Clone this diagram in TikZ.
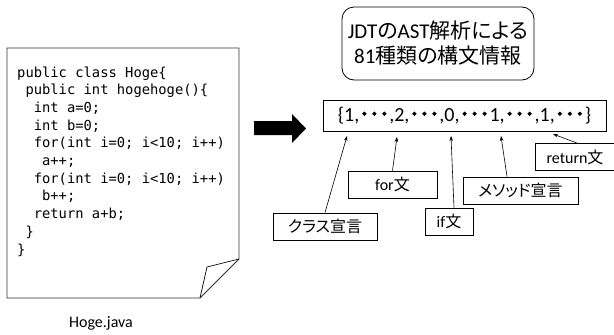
\documentclass[tikz,border=0pt]{standalone}
\usepackage{fontspec}
\setmainfont{Carlito}
\newfontfamily\jp{Noto Sans CJK JP}[RawFeature=+palt]
\newfontfamily\jpdot{Noto Sans CJK JP}[FakeBold=4]
\newfontfamily\codefont{DejaVu Sans Mono}
\usetikzlibrary{arrows.meta}
\begin{document}
\begin{tikzpicture}[x=1pt,y=-1pt,
  code/.style={anchor=base west,inner sep=0pt,font=\codefont\fontsize{13.8}{16}\selectfont},
  lbl/.style={draw,line width=0.8pt,inner sep=0pt,minimum height=27pt,font=\fontsize{16}{18}\selectfont},
  ptr/.style={line width=0.6pt,-{Stealth[length=5pt,width=3.5pt]}}]
\useasboundingbox (0,0) rectangle (614,335);
% document
\draw[line width=0.8pt,black!80] (7,48) -- (239,48) -- (239,259) -- (200,298) -- (7,298) -- cycle;
\draw[line width=0.7pt] (239,259) -- (207,267) -- (200,298);
\node[code] (c1) at (17,77) {public class Hoge\{};
\node[code] (c2) at (17,94.7) {\phantom{x}public int hogehoge()\{};
\node[code] (c3) at (17,112.4) {\phantom{xx}int a=0;};
\node[code] (c4) at (17,130.1) {\phantom{xx}int b=0;};
\node[code] (c5) at (17,147.8) {\phantom{xx}for(int i=0; i<10; i++)};
\node[code] (c6) at (17,165.5) {\phantom{xxx}a++;};
\node[code] (c7) at (17,183.2) {\phantom{xx}for(int i=0; i<10; i++)};
\node[code] (c8) at (17,200.9) {\phantom{xxx}b++;};
\node[code] (c9) at (17,218.6) {\phantom{xx}return a+b;};
\node[code] (c10) at (17,236.3) {\phantom{x}\}};
\node[code] (c11) at (17,254) {\}};
\node[font=\fontsize{16}{18}\selectfont] (fname) at (101,323) {Hoge.java};
% block arrow
\fill (254,121) -- (292,121) -- (292,114) -- (306,128.5) -- (292,143) -- (292,135) -- (254,135) -- cycle;
% AST box
\node[draw,line width=0.8pt,rounded corners=12pt,minimum width=192pt,minimum height=73pt,inner sep=0pt,align=center,
  font=\fontsize{21}{25}\selectfont] (ast) at (438,43.5) {JDT{\jp の}AST{\jp 解析による}\\81{\jp 種類の構文情報}};
% vector box
\node[draw,line width=0.8pt,minimum width=283pt,minimum height=31pt,inner sep=0pt,font=\fontsize{20}{22}\selectfont]
  (arr) at (464.5,115.5) {\{1,{\jpdot ･･･},2,{\jpdot ･･･},0,{\jpdot ･･･}1,{\jpdot ･･･},1,{\jpdot ･･･}\}};
% labels
\node[lbl,minimum width=104pt] (cls) at (325,226.5) {\jp クラス宣言};
\node[lbl,minimum width=89pt] (forl) at (392.5,184.5) {for{\jp 文}};
\node[lbl,minimum width=48pt] (ifl) at (449,221.5) {if{\jp 文}};
\node[lbl,minimum width=115pt] (meth) at (520.5,190.5) {\jp メソッド宣言};
\node[lbl,minimum width=80pt] (ret) at (575,157) {return{\jp 文}};
% pointer targets
\coordinate (t1) at (347,136);
\coordinate (t2) at (397,137);
\coordinate (t3) at (451,136);
\coordinate (t4) at (501,136);
\coordinate (t5) at (553,134);
\draw[ptr] (cls.north) -- (t1);
\draw[ptr] (forl.north) -- (t2);
\draw[ptr] ([xshift=5pt]ifl.north) -- (t3);
\draw[ptr] ([xshift=-13.5pt]meth.north) -- (t4);
\draw[ptr] ([xshift=2pt]ret.north) -- (t5);
\end{tikzpicture}
\end{document}
